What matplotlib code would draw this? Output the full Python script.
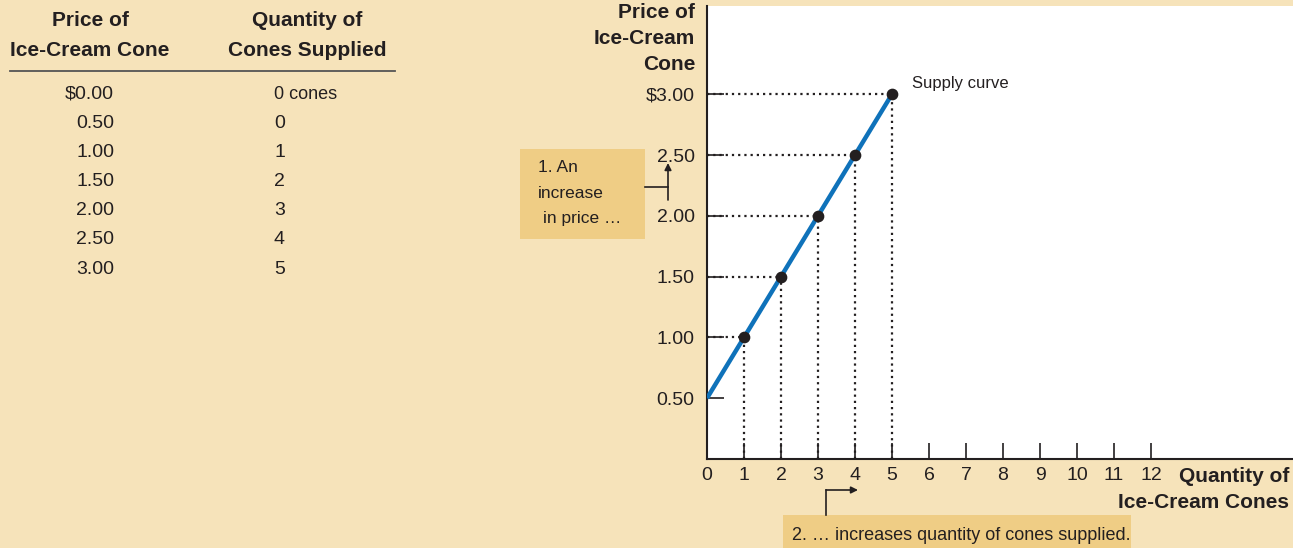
import numpy as np
import matplotlib
matplotlib.use("Agg")
from matplotlib import pyplot as plt
from matplotlib.patches import Rectangle, FancyArrowPatch
from matplotlib.lines import Line2D

plt.rcParams['font.family'] = ['Liberation Sans', 'DejaVu Sans']

# supply schedule
prices = [0.00, 0.50, 1.00, 1.50, 2.00, 2.50, 3.00]
price_labels = ['$0.00', '0.50', '1.00', '1.50', '2.00', '2.50', '3.00']
quantities = [0, 0, 1, 2, 3, 4, 5]
qty_labels = ['0 cones', '0', '1', '2', '3', '4', '5']

x_ticks = list(range(0, 13))
y_ticks = [0.5, 1.0, 1.5, 2.0, 2.5, 3.0]
y_tick_labels = ['0.50', '1.00', '1.50', '2.00', '2.50', '$3.00']

W, H = 1293, 548
bg = '#F6E3BA'
box_col = '#EFCD85'
ink = '#231F20'
blue = '#0F72BA'


def fx(x):
    return x / W


def fy(y):
    return 1 - y / H


fig = plt.figure(figsize=(W / 100, H / 100), dpi=100, facecolor=bg)

# table on the left
fig.text(fx(90), fy(21), 'Price of', ha='center', va='center', fontsize=15, fontweight='bold', color=ink)
fig.text(fx(90), fy(50), 'Ice-Cream Cone', ha='center', va='center', fontsize=15, fontweight='bold', color=ink)
fig.text(fx(307), fy(21), 'Quantity of', ha='center', va='center', fontsize=15, fontweight='bold', color=ink)
fig.text(fx(307), fy(50), 'Cones Supplied', ha='center', va='center', fontsize=15, fontweight='bold', color=ink)
fig.add_artist(Line2D([fx(10), fx(395)], [fy(71), fy(71)], color='#555555', lw=1.3))

for i in range(len(prices)):
    yy = 94 + i * 29.2
    fig.text(fx(114), fy(yy), price_labels[i], ha='right', va='center', fontsize=14, color=ink)
    fig.text(fx(274), fy(yy), qty_labels[i], ha='left', va='center', fontsize=14 if i else 13, color=ink)

# graph
ax = fig.add_axes([fx(707), fy(459), (W - 707) / W, (459 - 6) / H])
ax.set_facecolor('white')
ax.set_xlim(0, (W - 707) / 37.0)
ax.set_ylim(0, (459 - 6) / 121.6)
for s in ['top', 'right']:
    ax.spines[s].set_visible(False)
for s in ['left', 'bottom']:
    ax.spines[s].set_linewidth(1.5)
    ax.spines[s].set_color(ink)

ax.set_xticks(x_ticks)
ax.set_xticklabels([str(t) for t in x_ticks])
ax.set_yticks(y_ticks)
ax.set_yticklabels(y_tick_labels)
ax.tick_params(axis='x', direction='in', length=11.5, width=1.2, pad=6, labelsize=14, colors=ink)
ax.tick_params(axis='y', direction='in', length=12.5, width=1.2, pad=9, labelsize=14, colors=ink)

# dotted guides
for p, q in zip(prices, quantities):
    if q > 0:
        ax.plot([0, q], [p, p], color=ink, lw=1.6, ls=(0, (1, 1.8)), zorder=2)
        ax.plot([q, q], [0, p], color=ink, lw=1.6, ls=(0, (1, 1.8)), zorder=2)

# supply curve
ax.plot(quantities[1:], prices[1:], color=blue, lw=3.2, solid_capstyle='butt', zorder=3)
qs = [q for q in quantities if q > 0]
ps = [p for p, q in zip(prices, quantities) if q > 0]
ax.scatter(qs, ps, s=55, color=ink, zorder=4)
ax.text(5.55, 3.09, 'Supply curve', fontsize=12, color=ink, ha='left', va='center')

# axis titles
for yy, line in zip([12, 38, 64], ['Price of', 'Ice-Cream', 'Cone']):
    fig.text(fx(695), fy(yy), line, ha='right', va='center', fontsize=15, fontweight='bold', color=ink)
fig.text(fx(1289), fy(476), 'Quantity of', ha='right', va='center', fontsize=15, fontweight='bold', color=ink)
fig.text(fx(1289), fy(502), 'Ice-Cream Cones', ha='right', va='center', fontsize=15, fontweight='bold', color=ink)

# callout 1
fig.add_artist(Rectangle((fx(520), fy(239)), (645 - 520) / W, (239 - 149) / H,
                         transform=fig.transFigure, facecolor=box_col, edgecolor='none'))
fig.text(fx(538), fy(167), '1. An', ha='left', va='center', fontsize=12.5, color=ink)
fig.text(fx(538), fy(193), 'increase', ha='left', va='center', fontsize=12.5, color=ink)
fig.text(fx(543), fy(219), 'in price \u2026', ha='left', va='center', fontsize=12.5, color=ink)
fig.add_artist(Line2D([fx(645), fx(668)], [fy(187), fy(187)], color=ink, lw=1.2))
fig.add_artist(FancyArrowPatch((fx(668), fy(200)), (fx(668), fy(163)), transform=fig.transFigure,
                               arrowstyle='-|>', mutation_scale=10, color=ink, lw=1.2,
                               shrinkA=0, shrinkB=0))

# callout 2
fig.add_artist(Rectangle((fx(783), 0), (1131 - 783) / W, (548 - 515) / H,
                         transform=fig.transFigure, facecolor=box_col, edgecolor='none'))
fig.text(fx(792), fy(535), '2. \u2026 increases quantity of cones supplied.', ha='left', va='center',
         fontsize=13, color=ink)
fig.add_artist(Line2D([fx(826), fx(826)], [fy(515), fy(490)], color=ink, lw=1.2))
fig.add_artist(FancyArrowPatch((fx(826), fy(490)), (fx(858), fy(490)), transform=fig.transFigure,
                               arrowstyle='-|>', mutation_scale=10, color=ink, lw=1.2,
                               shrinkA=0, shrinkB=0))

fig.savefig('out.png', dpi=100, facecolor=bg)
